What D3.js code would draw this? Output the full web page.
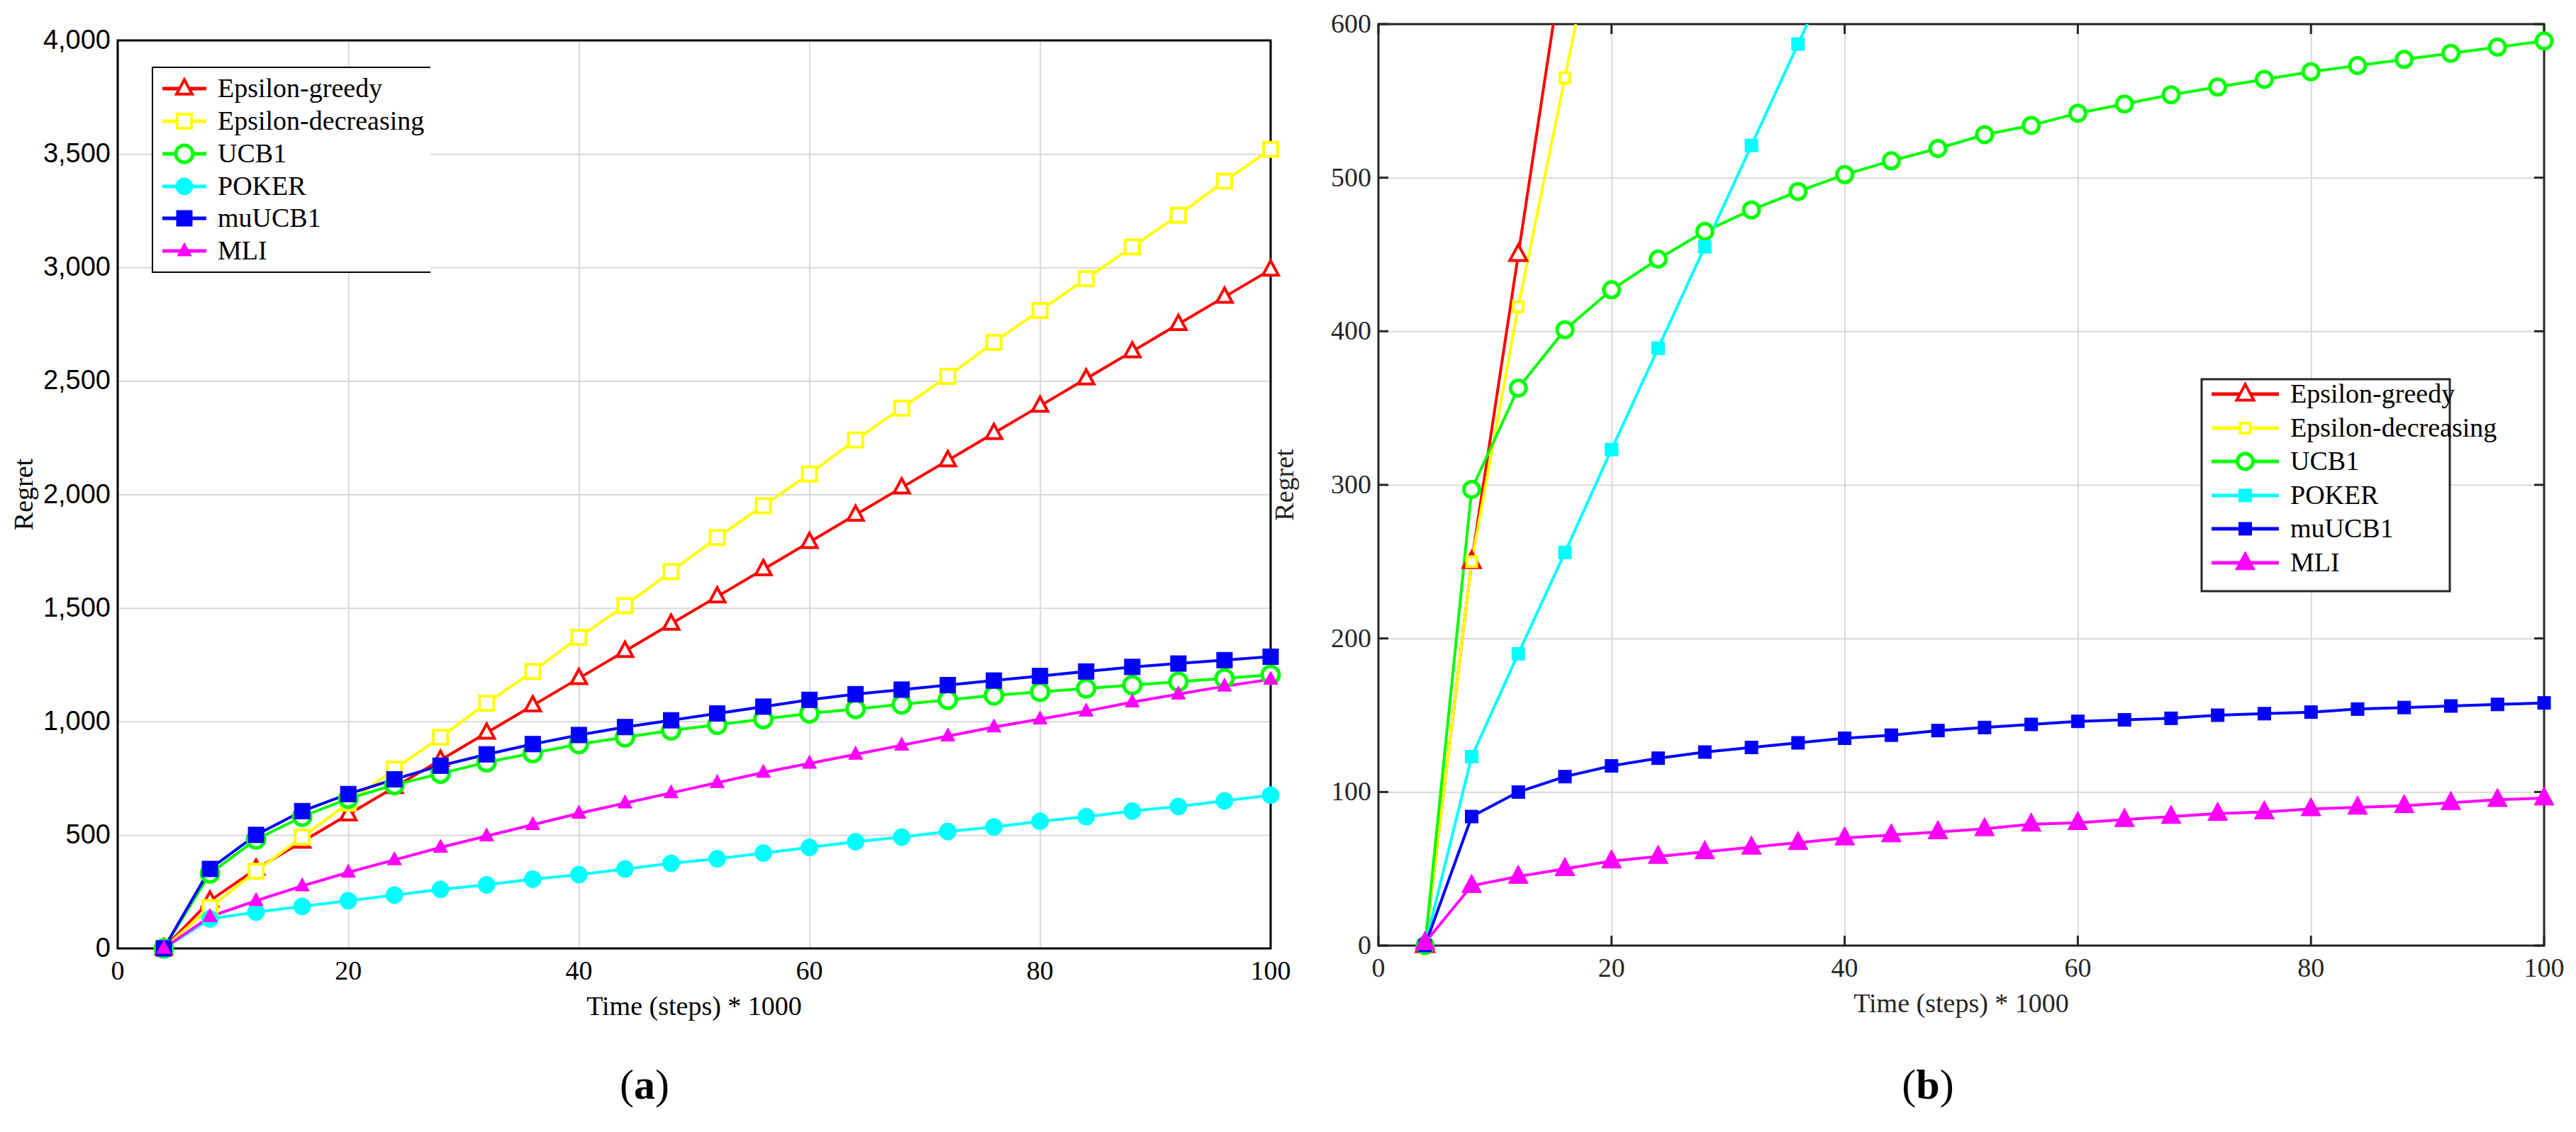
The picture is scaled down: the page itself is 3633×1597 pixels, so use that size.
<!DOCTYPE html>
<html><head><meta charset="utf-8">
<script src="https://cdn.jsdelivr.net/npm/d3@7"></script>
<style>body{margin:0;background:#fff}svg{display:block}</style>
</head><body>
<script>
const steps = [4,8,12,16,20,24,28,32,36,40,44,48,52,56,60,64,68,72,76,80,84,88,92,96,100];
const seriesNames = ["Epsilon-greedy","Epsilon-decreasing","UCB1","POKER","muUCB1","MLI"];
const seriesColors = ["#ff0000","#ffff00","#00ff00","#00ffff","#0000ff","#ff00ff"];
// panel (a)
const aEpsGreedy = [0,210,350,470,590,710,830,950,1070,1190,1310,1430,1550,1670,1790,1910,2030,2150,2270,2390,2510,2630,2750,2870,2990];
const aEpsDec = [0,180,340,490,640,790,930,1080,1220,1370,1510,1660,1810,1950,2090,2240,2380,2520,2670,2810,2950,3090,3230,3380,3520];
const aUCB1 = [0,330,480,580,660,720,770,820,860,900,930,960,985,1010,1035,1055,1075,1095,1115,1130,1145,1160,1175,1190,1205];
const aPOKER = [0,130,160,185,210,235,260,280,305,325,350,375,395,420,445,470,490,515,535,560,580,605,625,650,675];
const aMuUCB1 = [0,350,500,605,680,745,805,855,900,940,975,1005,1035,1065,1095,1120,1140,1160,1180,1200,1220,1240,1255,1270,1285];
const aMLI = [0,140,210,275,335,390,445,495,545,595,640,685,730,775,815,855,895,935,975,1010,1045,1085,1120,1155,1185];
// panel (b)
const bEpsGreedy = [0,250,450,650];
const bEpsDec = [0,250,416,565,715];
const bUCB1 = [0,297,363,401,427,447,465,479,491,502,511,519,528,534,542,548,554,559,564,569,573,577,581,585,589];
const bPOKER = [0,123,190,256,323,389,455,521,587,653];
const bMuUCB1 = [0,84,100,110,117,122,126,129,132,135,137,140,142,144,146,147,148,150,151,152,154,155,156,157,158];
const bMLI = [2,39,45,50,55,58,61,64,67,70,72,74,76,79,80,82,84,86,87,89,90,91,93,95,96];
const xTicks = [0,20,40,60,80,100];
const aYTicks = [0,500,1000,1500,2000,2500,3000,3500,4000];
const bYTicks = [0,100,200,300,400,500,600];

const svg = d3.select("body").append("svg").attr("width",3633).attr("height",1597);
const serif = "Liberation Serif, Tinos, DejaVu Serif, serif";

function panel(cfg){
  const {L,R,T,B,ymax,yTicks,data,markers,legend,label,tickFont,yFmt,clipId,ticksIn} = cfg;
  const x = d3.scaleLinear().domain([0,100]).range([L,R]);
  const y = d3.scaleLinear().domain([0,ymax]).range([B,T]);
  const ink = ticksIn?"#262626":"#000";
  const g = svg.append("g");
  g.append("g").attr("transform",`translate(0,${B})`)
    .call(d3.axisBottom(x).tickValues(xTicks).tickSize(-(B-T)).tickFormat(""))
    .call(s=>{s.select(".domain").remove(); s.selectAll("line").attr("stroke","#d9d9d9").attr("stroke-width",2);});
  g.append("g").attr("transform",`translate(${L},0)`)
    .call(d3.axisLeft(y).tickValues(yTicks).tickSize(-(R-L)).tickFormat(""))
    .call(s=>{s.select(".domain").remove(); s.selectAll("line").attr("stroke","#d9d9d9").attr("stroke-width",2);});
  if(ticksIn){
    yTicks.forEach(v=>{
      g.append("line").attr("x1",L).attr("x2",L+14).attr("y1",y(v)).attr("y2",y(v)).attr("stroke",ink).attr("stroke-width",3);
      g.append("line").attr("x1",R).attr("x2",R-14).attr("y1",y(v)).attr("y2",y(v)).attr("stroke",ink).attr("stroke-width",3);
    });
    xTicks.forEach(v=>{
      g.append("line").attr("x1",x(v)).attr("x2",x(v)).attr("y1",B).attr("y2",B-14).attr("stroke",ink).attr("stroke-width",3);
      g.append("line").attr("x1",x(v)).attr("x2",x(v)).attr("y1",T).attr("y2",T+14).attr("stroke",ink).attr("stroke-width",3);
    });
  }
  g.append("rect").attr("x",L).attr("y",T).attr("width",R-L).attr("height",B-T)
    .attr("fill","none").attr("stroke",ink).attr("stroke-width",3);
  xTicks.forEach(v=>g.append("text").attr("x",x(v)).attr("y",B+44).attr("text-anchor","middle")
    .attr("font-family",serif).attr("font-size",38).attr("fill",ink).text(v));
  yTicks.forEach(v=>g.append("text").attr("x",L-10).attr("y",y(v)+12).attr("text-anchor","end")
    .attr("font-family",tickFont).attr("font-size",38).attr("fill",ink).text(yFmt(v)));
  g.append("text").attr("x",(L+R)/2).attr("y",B+94).attr("text-anchor","middle")
    .attr("font-family",serif).attr("font-size",38).attr("fill",ink).text("Time (steps) * 1000");
  g.append("text").attr("transform",`translate(${L-120},${(T+B)/2}) rotate(-90)`).attr("text-anchor","middle")
    .attr("font-family",serif).attr("font-size",38).attr("fill",ink).text("Regret");
  const lt = g.append("text").attr("x",cfg.labelX).attr("y",1550).attr("text-anchor","middle")
    .attr("font-family",serif).attr("font-size",60);
  lt.append("tspan").text("(");
  lt.append("tspan").attr("font-weight","bold").text(label);
  lt.append("tspan").text(")");
  svg.append("clipPath").attr("id",clipId+"m").append("rect").attr("x",L-40).attr("y",T).attr("width",R-L+80).attr("height",B-T+60);
  const line = d3.line().x((d,i)=>x(steps[i])).y(d=>y(d));
  data.forEach((arr,k)=>{
    g.append("path").datum(arr).attr("d",line).attr("fill","none").attr("stroke",seriesColors[k]).attr("stroke-width",4)
      .attr("clip-path",`url(#${clipId}m)`);
  });
  data.forEach((arr,k)=>{
    const mg = g.append("g").attr("clip-path",`url(#${clipId}m)`);
    arr.forEach((v,i)=>{ if(y(v)>=T-5) drawMarker(mg, markers[k], x(steps[i]), y(v), seriesColors[k]); });
  });
  const lg = g.append("g");
  const {lx,ly,lw,lh,rows,openRight,lineW} = legend;
  if(openRight){
    lg.append("rect").attr("x",lx).attr("y",ly).attr("width",lw).attr("height",lh).attr("fill","white");
    lg.append("path").attr("d",`M${lx+lw},${ly}H${lx}V${ly+lh}H${lx+lw}`).attr("fill","none").attr("stroke","#000").attr("stroke-width",2);
  } else {
    lg.append("rect").attr("x",lx).attr("y",ly).attr("width",lw).attr("height",lh).attr("fill","white").attr("stroke",ink).attr("stroke-width",3);
  }
  seriesNames.forEach((n,k)=>{
    const yy = rows[k];
    lg.append("line").attr("x1",lx+14).attr("x2",lx+14+lineW).attr("y1",yy).attr("y2",yy).attr("stroke",seriesColors[k]).attr("stroke-width",5);
    drawMarker(lg, markers[k], lx+14+lineW/2, yy, seriesColors[k]);
    lg.append("text").attr("x",lx+lineW+30).attr("y",yy+12).attr("font-family",serif).attr("font-size",38).text(n);
  });
}
function drawMarker(g,m,cx,cy,c){
  const s = m.size;
  if(m.type==="circle"){
    g.append("circle").attr("cx",cx).attr("cy",cy).attr("r",s).attr("fill",m.fill?c:"white").attr("stroke",c).attr("stroke-width",m.fill?1:5);
  } else if(m.type==="square"){
    g.append("rect").attr("x",cx-s).attr("y",cy-s).attr("width",2*s).attr("height",2*s).attr("fill",m.fill?c:"white").attr("stroke",c).attr("stroke-width",m.fill?1:4);
  } else {
    g.append("path").attr("d",`M${cx},${cy-s*1.15}L${cx+s},${cy+s*0.7}L${cx-s},${cy+s*0.7}Z`).attr("fill",m.fill?c:"white").attr("stroke",c).attr("stroke-width",m.fill?1:4);
  }
}
const aMarkers = [{type:"tri",size:11,fill:false},{type:"square",size:10,fill:false},{type:"circle",size:12,fill:false},{type:"circle",size:12,fill:true},{type:"square",size:11,fill:true},{type:"tri",size:10,fill:true}];
const bMarkers = [{type:"tri",size:12,fill:false},{type:"square",size:7,fill:false},{type:"circle",size:11,fill:false},{type:"square",size:9,fill:true},{type:"square",size:9,fill:true},{type:"tri",size:14,fill:true}];

panel({L:166,R:1792,T:57,B:1338,ymax:4000,yTicks:aYTicks,data:[aEpsGreedy,aEpsDec,aUCB1,aPOKER,aMuUCB1,aMLI],
  markers:aMarkers,label:"a",labelX:909,clipId:"ca",tickFont:"Liberation Sans Narrow, Liberation Sans, sans-serif",
  yFmt:d3.format(","),ticksIn:false,
  legend:{lx:215,ly:95,lw:392,lh:289,rows:[125,171,217,263,308,354],openRight:true,lineW:62}});
panel({L:1944,R:3588,T:34,B:1334,ymax:600,yTicks:bYTicks,data:[bEpsGreedy,bEpsDec,bUCB1,bPOKER,bMuUCB1,bMLI],
  markers:bMarkers,label:"b",labelX:2719,clipId:"cb",tickFont:serif,yFmt:d=>d,ticksIn:true,
  legend:{lx:3105,ly:535,lw:350,lh:299,rows:[556,604,651,699,746,794],openRight:false,lineW:95}});
</script>
</body></html>
